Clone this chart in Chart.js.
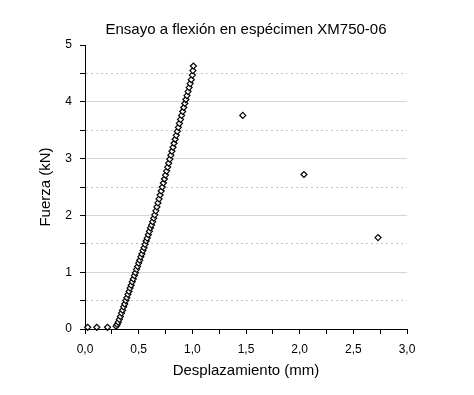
<!DOCTYPE html>
<html>
<head>
<meta charset="utf-8">
<script src="https://cdn.jsdelivr.net/npm/chart.js@4"></script>
<style>
  html, body { margin: 0; padding: 0; background: #fff; }
  #wrap { width: 474px; height: 395px; }
</style>
</head>
<body>
<div id="wrap"><canvas id="chart"></canvas></div>
<script>
// Datos: desplazamiento (mm) y fuerza (kN)
const desplazamiento = [
  0.025, 0.11, 0.21,
  0.29, 0.30, 0.31, 0.32, 0.33, 0.34, 0.35, 0.36, 0.37, 0.38, 0.39,
  0.40, 0.41, 0.42, 0.43, 0.44, 0.45, 0.46, 0.47, 0.48, 0.49,
  0.50, 0.51, 0.52, 0.53, 0.54, 0.55, 0.56, 0.57, 0.58, 0.59,
  0.60, 0.61, 0.62, 0.63, 0.64, 0.65, 0.66, 0.67, 0.68, 0.69,
  0.70, 0.71, 0.72, 0.73, 0.74, 0.75, 0.76, 0.77, 0.78, 0.79,
  0.80, 0.81, 0.82, 0.83, 0.84, 0.85, 0.86, 0.87, 0.88, 0.89,
  0.90, 0.91, 0.92, 0.93, 0.94, 0.95, 0.96, 0.97, 0.98, 0.99,
  1.00, 1.005, 1.01,
  1.47, 2.04, 2.73
];
const fuerza = [
  0.03, 0.03, 0.03,
  0.05, 0.08, 0.12, 0.17, 0.22, 0.28, 0.33, 0.39, 0.44, 0.50, 0.55,
  0.61, 0.66, 0.72, 0.77, 0.83, 0.88, 0.94, 0.99, 1.05, 1.10,
  1.16, 1.21, 1.27, 1.32, 1.38, 1.43, 1.49, 1.55, 1.60, 1.66,
  1.72, 1.78, 1.83, 1.89, 1.95, 2.01, 2.08, 2.15, 2.22, 2.29,
  2.36, 2.43, 2.50, 2.57, 2.64, 2.71, 2.78, 2.85, 2.92, 2.99,
  3.06, 3.13, 3.20, 3.27, 3.34, 3.41, 3.48, 3.55, 3.62, 3.69,
  3.76, 3.83, 3.90, 3.97, 4.04, 4.11, 4.18, 4.25, 4.32, 4.39,
  4.47, 4.55, 4.63,
  3.76, 2.72, 1.61
];

const xRange = [0, 3];
const yRange = [0, 5];

const font = "'Liberation Sans', Arial, sans-serif";

const points = desplazamiento.map((x, i) => ({ x: x, y: fuerza[i] }));

new Chart(document.getElementById("chart"), {
  type: "scatter",
  data: {
    datasets: [{
      data: points,
      pointStyle: "rectRot",
      pointRadius: 3,
      pointHoverRadius: 3,
      pointBorderWidth: 1.2,
      pointBorderColor: "#000",
      pointBackgroundColor: "#fff",
      clip: false
    }]
  },
  options: {
    responsive: true,
    maintainAspectRatio: false,
    animation: false,
    events: [],
    layout: { padding: { left: 0, right: 67, top: 0, bottom: 0 } },
    plugins: {
      legend: { display: false },
      tooltip: { enabled: false },
      title: {
        display: true,
        text: "Ensayo a flexión en espécimen XM750-06",
        color: "#000",
        fullSize: false,
        font: { family: font, size: 15, weight: "normal" },
        padding: { top: 21, bottom: 6 }
      }
    },
    scales: {
      x: {
        type: "linear",
        min: xRange[0],
        max: xRange[1],
        afterFit: s => { s.height = 66; },
        ticks: {
          stepSize: 0.25,
          autoSkip: false,
          maxRotation: 0,
          padding: 8,
          color: "#000",
          font: { family: font, size: 12 },
          callback: v => (Math.abs(v * 2 - Math.round(v * 2)) < 1e-9 ? v.toFixed(1).replace(".", ",") : "")
        },
        grid: {
          drawOnChartArea: false,
          drawTicks: true,
          tickLength: 5,
          tickColor: "#000"
        },
        border: { display: true, color: "#000", width: 1 },
        title: {
          display: true,
          text: "Desplazamiento (mm)",
          color: "#000",
          font: { family: font, size: 15 },
          padding: { top: 0, bottom: 15 }
        }
      },
      y: {
        type: "linear",
        min: yRange[0],
        max: yRange[1],
        afterFit: s => { s.width = 85; },
        ticks: {
          stepSize: 0.5,
          autoSkip: false,
          padding: 8,
          color: "#000",
          font: { family: font, size: 12 },
          callback: v => (Number.isInteger(v) ? String(v) : "")
        },
        grid: {
          drawTicks: true,
          tickLength: 5,
          tickColor: "#000",
          lineWidth: 1,
          color: ctx => {
            const v = ctx.tick ? ctx.tick.value : 0;
            if (v <= 0 || v >= 5) return "rgba(0,0,0,0)";
            return Number.isInteger(v) ? "#d6d6d6" : "#c4c4c4";
          }
        },
        border: {
          display: true,
          color: "#000",
          width: 1,
          dash: ctx => {
            const v = ctx.tick ? ctx.tick.value : 0;
            return (ctx.tick && !Number.isInteger(v)) ? [2, 3] : [];
          }
        },
        title: {
          display: true,
          text: "Fuerza (kN)",
          color: "#000",
          font: { family: font, size: 15 },
          padding: { top: 37, bottom: 0 }
        }
      }
    }
  }
});
</script>
</body>
</html>
